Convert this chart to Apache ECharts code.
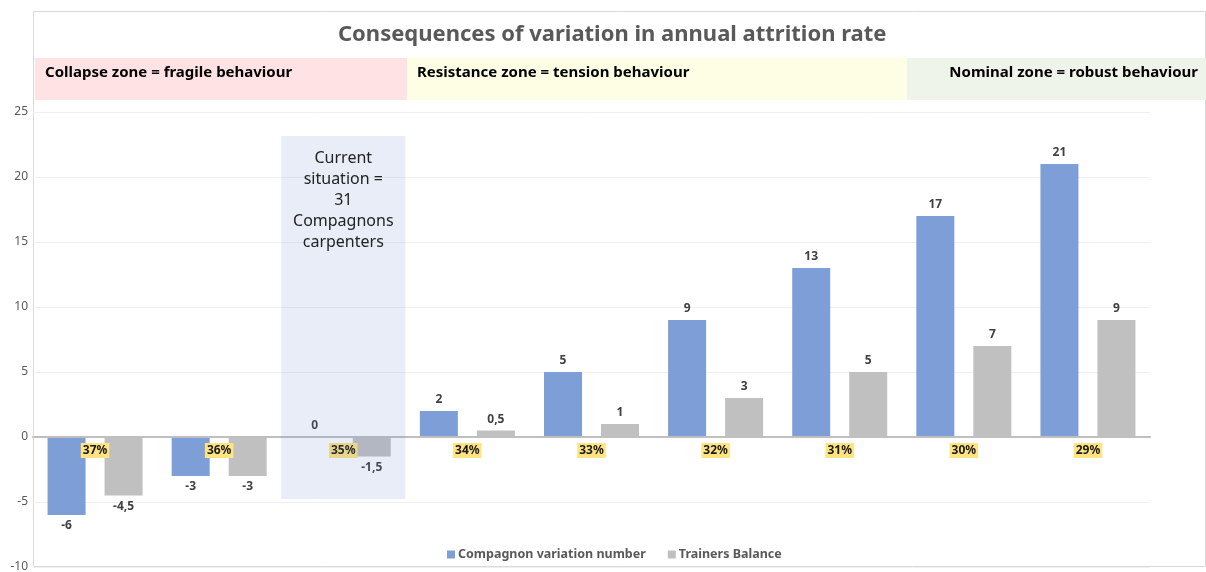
<!DOCTYPE html>
<html>
<head>
<meta charset="utf-8">
<script src="https://cdn.jsdelivr.net/npm/echarts@6/dist/echarts.min.js"></script>
<style>html,body{margin:0;padding:0;background:#fff;}#c{width:1206px;height:572px;}</style>
</head>
<body>
<div id="c"></div>
<script>
const categories = ['37%','36%','35%','34%','33%','32%','31%','30%','29%'];
const compagnonVariation = [-6, -3, 0, 2, 5, 9, 13, 17, 21];
const trainersBalance = [-4.5, -3, -1.5, 0.5, 1, 3, 5, 7, 9];
const seriesNames = ['Compagnon variation number', 'Trainers Balance'];
const yTicks = [-10, -5, 0, 5, 10, 15, 20, 25];
const currentSituationText = 'Current\nsituation =\n31\nCompagnons\ncarpenters';
const currentCategory = '35%';
const currentBox = [-4.77, 23.15];
const zones = ['Collapse zone = fragile behaviour', 'Resistance zone = tension behaviour', 'Nominal zone = robust behaviour'];
const titleText = 'Consequences of variation in annual attrition rate';

const FONT = '"Noto Sans", "Open Sans", sans-serif';
const fmt = v => String(v).replace('.', ',');
function mkData(arr){
  return arr.map(v => ({value: v, label: {position: v >= 0 ? 'top' : 'bottom'}}));
}
const GRID_TOP = 112, GRID_BOTTOM = 5, H = 572;
const yMin = yTicks[0], yMax = yTicks[yTicks.length - 1];
const gridH = H - GRID_TOP - GRID_BOTTOM;
// shift category axis (line + labels) up to the value 0
const zeroOffset = -((0 - yMin) / (yMax - yMin)) * gridH;

const chart = echarts.init(document.getElementById('c'), null, {renderer: 'canvas'});
chart.setOption({
  backgroundColor: '#fff',
  textStyle: {fontFamily: FONT},
  animation: false,
  title: {
    text: titleText, left: 333, top: 19,
    textStyle: {fontFamily: FONT, fontSize: 22, fontWeight: 'bold', color: '#595959'}
  },
  graphic: [
    {type: 'rect', z: -10, shape: {x: 33.5, y: 11.5, width: 1172, height: 555}, style: {fill: 'none', stroke: '#D9D9D9', lineWidth: 1}},
    {type: 'rect', z: -5, shape: {x: 35, y: 58, width: 372, height: 42}, style: {fill: '#FFE2E4'}},
    {type: 'rect', z: -5, shape: {x: 407, y: 58, width: 500, height: 42}, style: {fill: '#FEFEE4'}},
    {type: 'rect', z: -5, shape: {x: 907, y: 58, width: 299, height: 42}, style: {fill: '#EEF4EA'}},
    {type: 'text', left: 45, top: 65, style: {text: zones[0], font: 'bold 15px ' + FONT, fill: '#000'}},
    {type: 'text', left: 417, top: 65, style: {text: zones[1], font: 'bold 15px ' + FONT, fill: '#000'}},
    {type: 'text', right: 8, top: 65, style: {text: zones[2], font: 'bold 15px ' + FONT, fill: '#000'}}
  ],
  legend: {
    bottom: 6, left: 442,
    itemWidth: 8, itemHeight: 8, itemGap: 22,
    icon: 'rect',
    textStyle: {fontFamily: FONT, fontSize: 12.5, fontWeight: 'bold', color: '#595959', padding: [0, 0, 0, -2]},
    data: seriesNames
  },
  grid: {left: 33, right: 56, top: GRID_TOP, bottom: GRID_BOTTOM, containLabel: false, outerBoundsMode: 'none'},
  xAxis: {
    type: 'category', data: categories,
    offset: zeroOffset,
    z: 3,
    axisTick: {show: false},
    axisLine: {onZero: false, lineStyle: {color: '#BFBFBF', width: 2}},
    axisLabel: {
      margin: 6, fontFamily: FONT, fontSize: 12, fontWeight: 'bold', color: '#1a1a1a',
      backgroundColor: '#FFE481', padding: [2, 2, 1, 2]
    },
    splitLine: {show: false}
  },
  yAxis: {
    type: 'value', min: yMin, max: yMax, interval: 5,
    axisLine: {show: false}, axisTick: {show: false},
    axisLabel: {margin: 5, fontFamily: FONT, fontSize: 12, color: '#595959'},
    splitLine: {lineStyle: {color: '#F0F0F0', width: 1}}
  },
  series: [
    {
      name: seriesNames[0], type: 'bar', barWidth: 38, barGap: '50%',
      itemStyle: {color: '#7E9ED7'},
      label: {show: true, formatter: p => fmt(p.value), fontFamily: FONT, fontSize: 12, fontWeight: 'bold', color: '#404040', distance: 5},
      data: mkData(compagnonVariation)
    },
    {
      name: seriesNames[1], type: 'bar', barWidth: 38,
      itemStyle: {color: '#C0C0C0'},
      label: {show: true, formatter: p => fmt(p.value), fontFamily: FONT, fontSize: 12, fontWeight: 'bold', color: '#404040', distance: 5},
      data: mkData(trainersBalance),
      markArea: {
        z: 5, silent: true,
        itemStyle: {color: 'rgba(110,135,200,0.15)'},
        label: {
          show: true, position: 'insideTop', distance: 12,
          fontFamily: FONT, fontSize: 16, lineHeight: 21, color: '#222', align: 'center'
        },
        data: [[
          {name: currentSituationText, xAxis: currentCategory, yAxis: currentBox[1]},
          {xAxis: currentCategory, yAxis: currentBox[0]}
        ]]
      }
    }
  ]
});
</script>
</body>
</html>
